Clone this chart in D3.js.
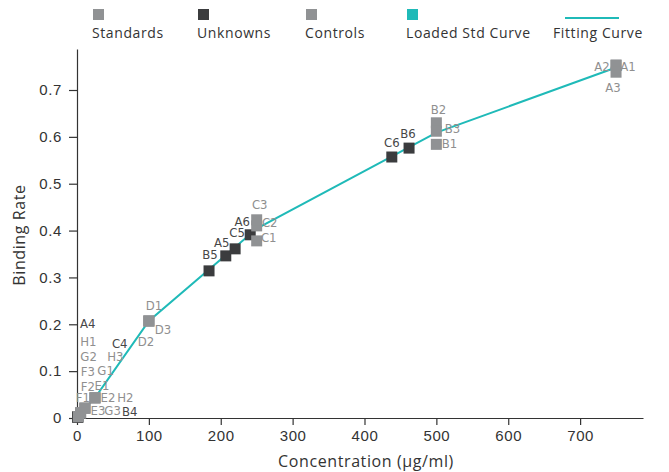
<!DOCTYPE html>
<html>
<head>
<meta charset="utf-8">
<script src="https://cdn.jsdelivr.net/npm/d3@7"></script>
<style>
  html, body { margin: 0; padding: 0; background: #fff; }
  svg { display: block; font-family: "Open Sans", sans-serif; letter-spacing: 0.6px; }
  .tick text { font-size: 15px; fill: #333; }
  .pt-label { font-family: "Liberation Sans Narrow", "DejaVu Sans Condensed", sans-serif; font-size: 13px; letter-spacing: 0; }
</style>
</head>
<body>
<svg id="chart" width="669" height="472"></svg>
<script>
// standards (gray)
const standardWells = ["A1", "A2", "A3", "B1", "B2", "B3", "C1", "C2", "C3", "D1", "D2", "D3",
  "E1", "E2", "E3", "F1", "F2", "F3", "G1", "G2", "G3", "H1", "H2", "H3"]
const standardConc = [750, 750, 750, 500, 500, 500, 250, 250, 250, 100, 100, 100,
  25, 25, 25, 11, 11, 11, 5, 5, 5, 2, 2, 2]
const standardRate = [0.753, 0.753, 0.738, 0.584, 0.630, 0.612, 0.378, 0.410, 0.423, 0.207, 0.207, 0.207,
  0.043, 0.043, 0.043, 0.021, 0.021, 0.021, 0.011, 0.011, 0.011, 0.003, 0.003, 0.003]

// unknowns (dark)
const unknownWells = ["A4", "B4", "C4", "B5", "A5", "C5", "A6", "C6", "B6"]
const unknownConc = [1, 1, 1, 183.7, 207, 220, 241, 438, 462]
const unknownRate = [0.002, 0.002, 0.002, 0.314, 0.346, 0.361, 0.391, 0.557, 0.576]

// fitting curve
const fitConc = [0, 5, 11, 25, 100, 250, 500, 750]
const fitRate = [0.003, 0.011, 0.021, 0.043, 0.207, 0.404, 0.609, 0.748]

const xTicks = [0, 100, 200, 300, 400, 500, 600, 700]
const yTicks = [0, 0.1, 0.2, 0.3, 0.4, 0.5, 0.6, 0.7]

const legendNames = ["Standards", "Unknowns", "Controls", "Loaded Std Curve", "Fitting Curve"]

// where each well label sits relative to its marker (px)
const labelOffsets = {
  A1: [12, 1], A2: [-14, 1], A3: [-3, 15],
  B1: [13, -1], B2: [2, -13], B3: [16, -3],
  C1: [12, -3], C2: [13, -3], C3: [3, -15],
  D1: [5, -16], D2: [-3, 20], D3: [14, 8],
  E1: [7, -12], E2: [13, 0], E3: [3, 13],
  F1: [-2, -11], F2: [3, -22], F3: [3, -37],
  G1: [25, -42], G2: [8, -56], G3: [32, -2],
  H1: [10, -75], H2: [47, -19], H3: [37, -60],
  A4: [10, -94], B4: [52, -6], C4: [42, -74],
  B5: [1, -16], A5: [-4, -13], C5: [2, -16], A6: [-8, -13],
  C6: [0, -15], B6: [-1, -15]
}

const GRAY = "#909294"
const DARK = "#3b3c3e"
const TEAL = "#1fbab8"
const SQ = 11

const svg = d3.select("#chart")

const x = d3.scaleLinear().domain([0, 787.5]).range([77, 643])
const y = d3.scaleLinear().domain([0, 0.7875]).range([418, 49])

// axes
svg.append("g")
  .attr("transform", `translate(0, ${y(0)})`)
  .call(d3.axisBottom(x).tickValues(xTicks).tickSize(7).tickSizeOuter(0).tickPadding(5))
  .call((g) => g.selectAll("path, line").attr("stroke", "#333").attr("stroke-width", 1.2))

svg.append("g")
  .attr("transform", `translate(${x(0)}, 0)`)
  .call(d3.axisLeft(y).tickValues(yTicks).tickSize(8).tickSizeOuter(0).tickPadding(7)
    .tickFormat((d) => (d === 0 ? "0" : d3.format(".1f")(d))))
  .call((g) => g.selectAll("path, line").attr("stroke", "#333").attr("stroke-width", 1.2))

svg.append("text")
  .attr("x", 366)
  .attr("y", 467)
  .attr("text-anchor", "middle")
  .attr("font-size", 16)
  .attr("fill", "#333")
  .text("Concentration (μg/ml)")

svg.append("text")
  .attr("transform", "translate(25, 235) rotate(-90)")
  .attr("text-anchor", "middle")
  .attr("font-size", 16)
  .attr("fill", "#333")
  .text("Binding Rate")

// fitting curve
svg.append("path")
  .datum(fitConc.map((c, i) => [c, fitRate[i]]))
  .attr("fill", "none")
  .attr("stroke", TEAL)
  .attr("stroke-width", 2)
  .attr("d", d3.line().x((d) => x(d[0])).y((d) => y(d[1])))

const unknowns = unknownWells.map((w, i) => ({well: w, conc: unknownConc[i], rate: unknownRate[i], color: DARK, text: "#474747"}))
const standards = standardWells.map((w, i) => ({well: w, conc: standardConc[i], rate: standardRate[i], color: GRAY, text: "#8f8f8f"}))
const points = unknowns.concat(standards)

svg.append("g")
  .selectAll("rect")
  .data(points)
  .join("rect")
  .attr("x", (d) => x(d.conc) - SQ / 2)
  .attr("y", (d) => y(d.rate) - SQ / 2)
  .attr("width", SQ)
  .attr("height", SQ)
  .attr("fill", (d) => d.color)

svg.append("g")
  .selectAll("text")
  .data(points)
  .join("text")
  .attr("class", "pt-label")
  .attr("x", (d) => x(d.conc) + labelOffsets[d.well][0])
  .attr("y", (d) => y(d.rate) + labelOffsets[d.well][1])
  .attr("text-anchor", "middle")
  .attr("dominant-baseline", "central")
  .attr("fill", (d) => d.text)
  .text((d) => d.well)

// legend
const legendX = [92, 197, 305, 406, 553]
const legendMarks = [GRAY, DARK, GRAY, TEAL, null]

const legend = svg.append("g")
  .selectAll("g")
  .data(legendNames)
  .join("g")
  .attr("transform", (d, i) => `translate(${legendX[i]}, 0)`)

legend.append("text")
  .attr("y", 38)
  .attr("font-size", 14)
  .attr("fill", "#333")
  .text((d) => d)

legend.each(function(d, i) {
  const g = d3.select(this)
  if (legendMarks[i]) {
    g.append("rect")
      .attr("x", 1)
      .attr("y", 9)
      .attr("width", SQ)
      .attr("height", SQ)
      .attr("fill", legendMarks[i])
  } else {
    g.append("line")
      .attr("x1", 12)
      .attr("x2", 66)
      .attr("y1", 18)
      .attr("y2", 18)
      .attr("stroke", TEAL)
      .attr("stroke-width", 2)
  }
})
</script>
</body>
</html>
